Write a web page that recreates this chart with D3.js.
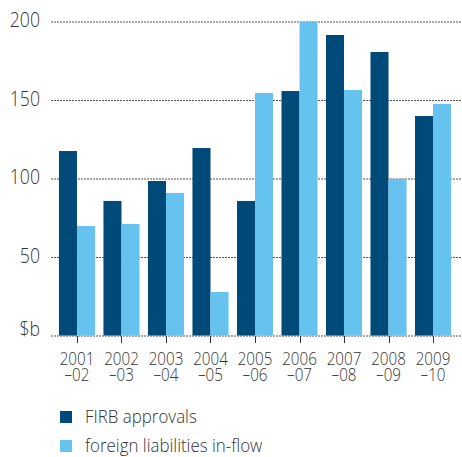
<!DOCTYPE html>
<html>
<head>
<meta charset="utf-8">
<script src="https://cdn.jsdelivr.net/npm/d3@7"></script>
<style>
  body { margin: 0; background: #fff; }
  text { font-family: "Open Sans", sans-serif; font-weight: 300; fill: #333; }
</style>
</head>
<body>
<div id="vizcontainer"></div>
<script>
const width = 462,
  height = 457;

// $b
const years = ['2001', '2002', '2003', '2004', '2005', '2006', '2007', '2008', '2009'];
const yearsEnd = ['\u201302', '\u201303', '\u201304', '\u201305', '\u201306', '\u201307', '\u201308', '\u201309', '\u201310'];
const firb = [117.5, 85.7, 98.4, 119.4, 85.7, 155.7, 191.4, 180.6, 139.8];
const inflow = [69.7, 71, 90.8, 27.7, 154.5, 200, 156.4, 99.7, 147.5];
const yTicks = [0, 50, 100, 150, 200];
const seriesNames = ['FIRB approvals', 'foreign liabilities in-flow'];
const colors = ['#004a79', '#66c2ee'];

let viz = d3.select('#vizcontainer')
  .append('svg')
  .attr('width', width)
  .attr('height', height);

const x = d3.scaleBand()
  .domain(years)
  .range([54.5, 455.5])
  .paddingInner(0.19)
  .paddingOuter(0.1);

const xs = d3.scaleBand()
  .domain([0, 1])
  .range([0, x.bandwidth()]);

const y = d3.scaleLinear()
  .domain([0, 200])
  .range([335.5, 21.5]);

const mid = d => x(d) + x.bandwidth() / 2;

// gridlines
viz.append('g')
  .selectAll('line')
  .data(yTicks)
  .join('line')
  .attr('x1', 51)
  .attr('x2', 462)
  .attr('y1', d => y(d) + 0.5)
  .attr('y2', d => y(d) + 0.5)
  .attr('stroke', '#555')
  .attr('stroke-width', 1)
  .attr('stroke-dasharray', '2,1');

// the font is narrow in the original, squeeze it a bit
viz.append('g')
  .selectAll('text')
  .data(yTicks)
  .join('text')
  .attr('transform', d => `translate(40,${d === 0 ? y(d) : y(d) + 5.5}) scale(0.84,1)`)
  .attr('text-anchor', 'end')
  .style('font-size', '21px')
  .text(d => d === 0 ? '$b' : d);

// bars
const groups = viz.append('g')
  .selectAll('g')
  .data(years.map((yr, i) => ({ yr, vals: [firb[i], inflow[i]] })))
  .join('g')
  .attr('transform', d => `translate(${x(d.yr)},0)`);

groups.selectAll('rect')
  .data(d => d.vals)
  .join('rect')
  .attr('x', (d, i) => xs(i))
  .attr('width', xs.bandwidth())
  .attr('y', d => y(d))
  .attr('height', d => y(0) - y(d))
  .style('fill', (d, i) => colors[i]);

// x ticks and labels
const xt = viz.append('g');
xt.selectAll('line')
  .data(years)
  .join('line')
  .attr('x1', d => Math.round(mid(d)) + 0.5)
  .attr('x2', d => Math.round(mid(d)) + 0.5)
  .attr('y1', 336)
  .attr('y2', 343)
  .attr('stroke', '#333');

const lbl = xt.selectAll('text')
  .data(years)
  .join('text')
  .attr('transform', d => `translate(${mid(d)},365) scale(0.8,1)`)
  .attr('text-anchor', 'middle')
  .style('font-size', '19px');

lbl.append('tspan')
  .attr('x', 0)
  .text(d => d);

lbl.append('tspan')
  .attr('x', 0)
  .attr('dy', 16)
  .text((d, i) => yearsEnd[i]);

// legend
const legend = viz.append('g')
  .selectAll('g')
  .data(seriesNames)
  .join('g')
  .attr('transform', (d, i) => `translate(60,${411 + i * 29})`);

legend.append('rect')
  .attr('width', 12)
  .attr('height', 12)
  .style('fill', (d, i) => colors[i]);

legend.append('text')
  .attr('transform', 'translate(25,11.5) scale(0.94,1)')
  .style('font-size', '18px')
  .text(d => d);
</script>
</body>
</html>
